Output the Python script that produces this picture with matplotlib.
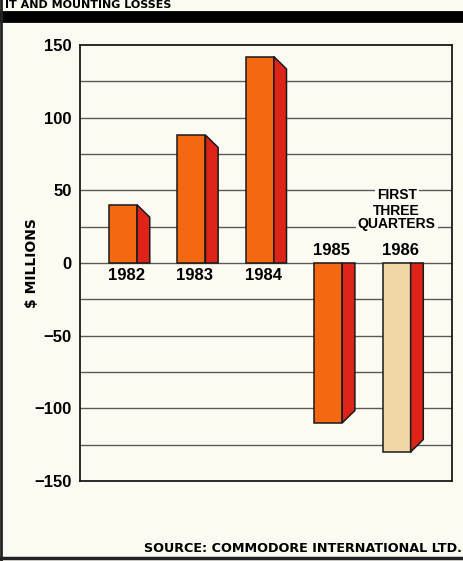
import matplotlib
matplotlib.use("Agg")
import matplotlib.pyplot as plt
from matplotlib.patches import Polygon
from matplotlib.lines import Line2D

years = ["1982", "1983", "1984", "1985", "1986"]
values = [40, 88, 142, -110, -130]
front_colors = ["#F46812", "#F46812", "#F46812", "#F46812", "#F1D7A6"]
side_color = "#DE2418"
yticks = [150, 100, 50, 0, -50, -100, -150]
ytick_labels = ["150", "100", "50", "0", "\u221250", "\u2212100", "\u2212150"]
note_lines = ["FIRST", "THREE", "QUARTERS"]

bg = "#FCFBF2"
narrow = ["Liberation Sans", "DejaVu Sans"]

fig = plt.figure(figsize=(4.64, 5.61), dpi=100, facecolor=bg)
ax = fig.add_axes([80/464, 1-481/561, 372/464, 436/561], facecolor=bg)

ax.set_ylim(-150, 150)
ax.set_xlim(-0.63, 4.81)

# gridlines every 25
for g in range(-125, 150, 25):
    ax.axhline(g, color="#5a5a5a", lw=1.0, zorder=1)

fw = 0.41
sw = 0.185
depth = 8.5
xs = list(range(len(years)))
ax.bar(xs, values, width=fw, color=front_colors, edgecolor="#1a1a1a",
       linewidth=1.1, zorder=3)
for x, v in zip(xs, values):
    xr = x + fw/2
    sgn = 1 if v > 0 else -1
    poly = Polygon([(xr, 0), (xr, v), (xr + sw, v - sgn*depth), (xr + sw, 0)],
                   closed=True, facecolor=side_color, edgecolor="#1a1a1a",
                   linewidth=1.1, zorder=3)
    ax.add_patch(poly)

# year labels
for x, v, y in zip(xs, values, years):
    yy = -8.5 if v > 0 else 8.5
    ax.text(x + 0.05, yy, y, ha="center", va="center", fontsize=12,
            fontweight="bold", family=narrow, zorder=5)

# note above 1986
note_y = [46.5, 35.5, 26.5]
for line, ny in zip(note_lines, note_y):
    ax.text(4.0, ny, line, ha="center", va="center", fontsize=10,
            fontweight="bold", family=narrow, zorder=5,
            bbox=dict(facecolor=bg, edgecolor="none", pad=1.5))

ax.set_yticks(yticks)
ax.set_yticklabels(ytick_labels, fontsize=12, fontweight="bold", family=narrow)
ax.set_xticks([])
ax.tick_params(axis="y", length=0, pad=6)
for s in ax.spines.values():
    s.set_color("#1a1a1a")
    s.set_linewidth(1.3)

fig.text(32/464, 1-263/561, "$ MILLIONS", rotation=90, ha="center", va="center",
         fontsize=10, fontweight="bold", family="DejaVu Sans")

fig.text(462/464, 1-549/561, "SOURCE: COMMODORE INTERNATIONAL LTD.", ha="right",
         va="center", fontsize=9.2, fontweight="bold", family="DejaVu Sans")

# top title (mostly cropped in the original) and frame decorations
fig.text(5/464, 1-5.5/561, "IT AND MOUNTING LOSSES", ha="left", va="center",
         fontsize=8.0, fontweight="bold", family="DejaVu Sans")
fig.add_artist(Line2D([0, 1], [1-16.5/561, 1-16.5/561], transform=fig.transFigure,
                      color="black", lw=8.5))
fig.add_artist(Line2D([1.5/464, 1.5/464], [0, 1], transform=fig.transFigure,
                      color="#222222", lw=2.0))
fig.add_artist(Line2D([0, 1], [1-558/561, 1-558/561], transform=fig.transFigure,
                      color="#222222", lw=2.5))

fig.savefig("out.png", dpi=100, facecolor=bg)
